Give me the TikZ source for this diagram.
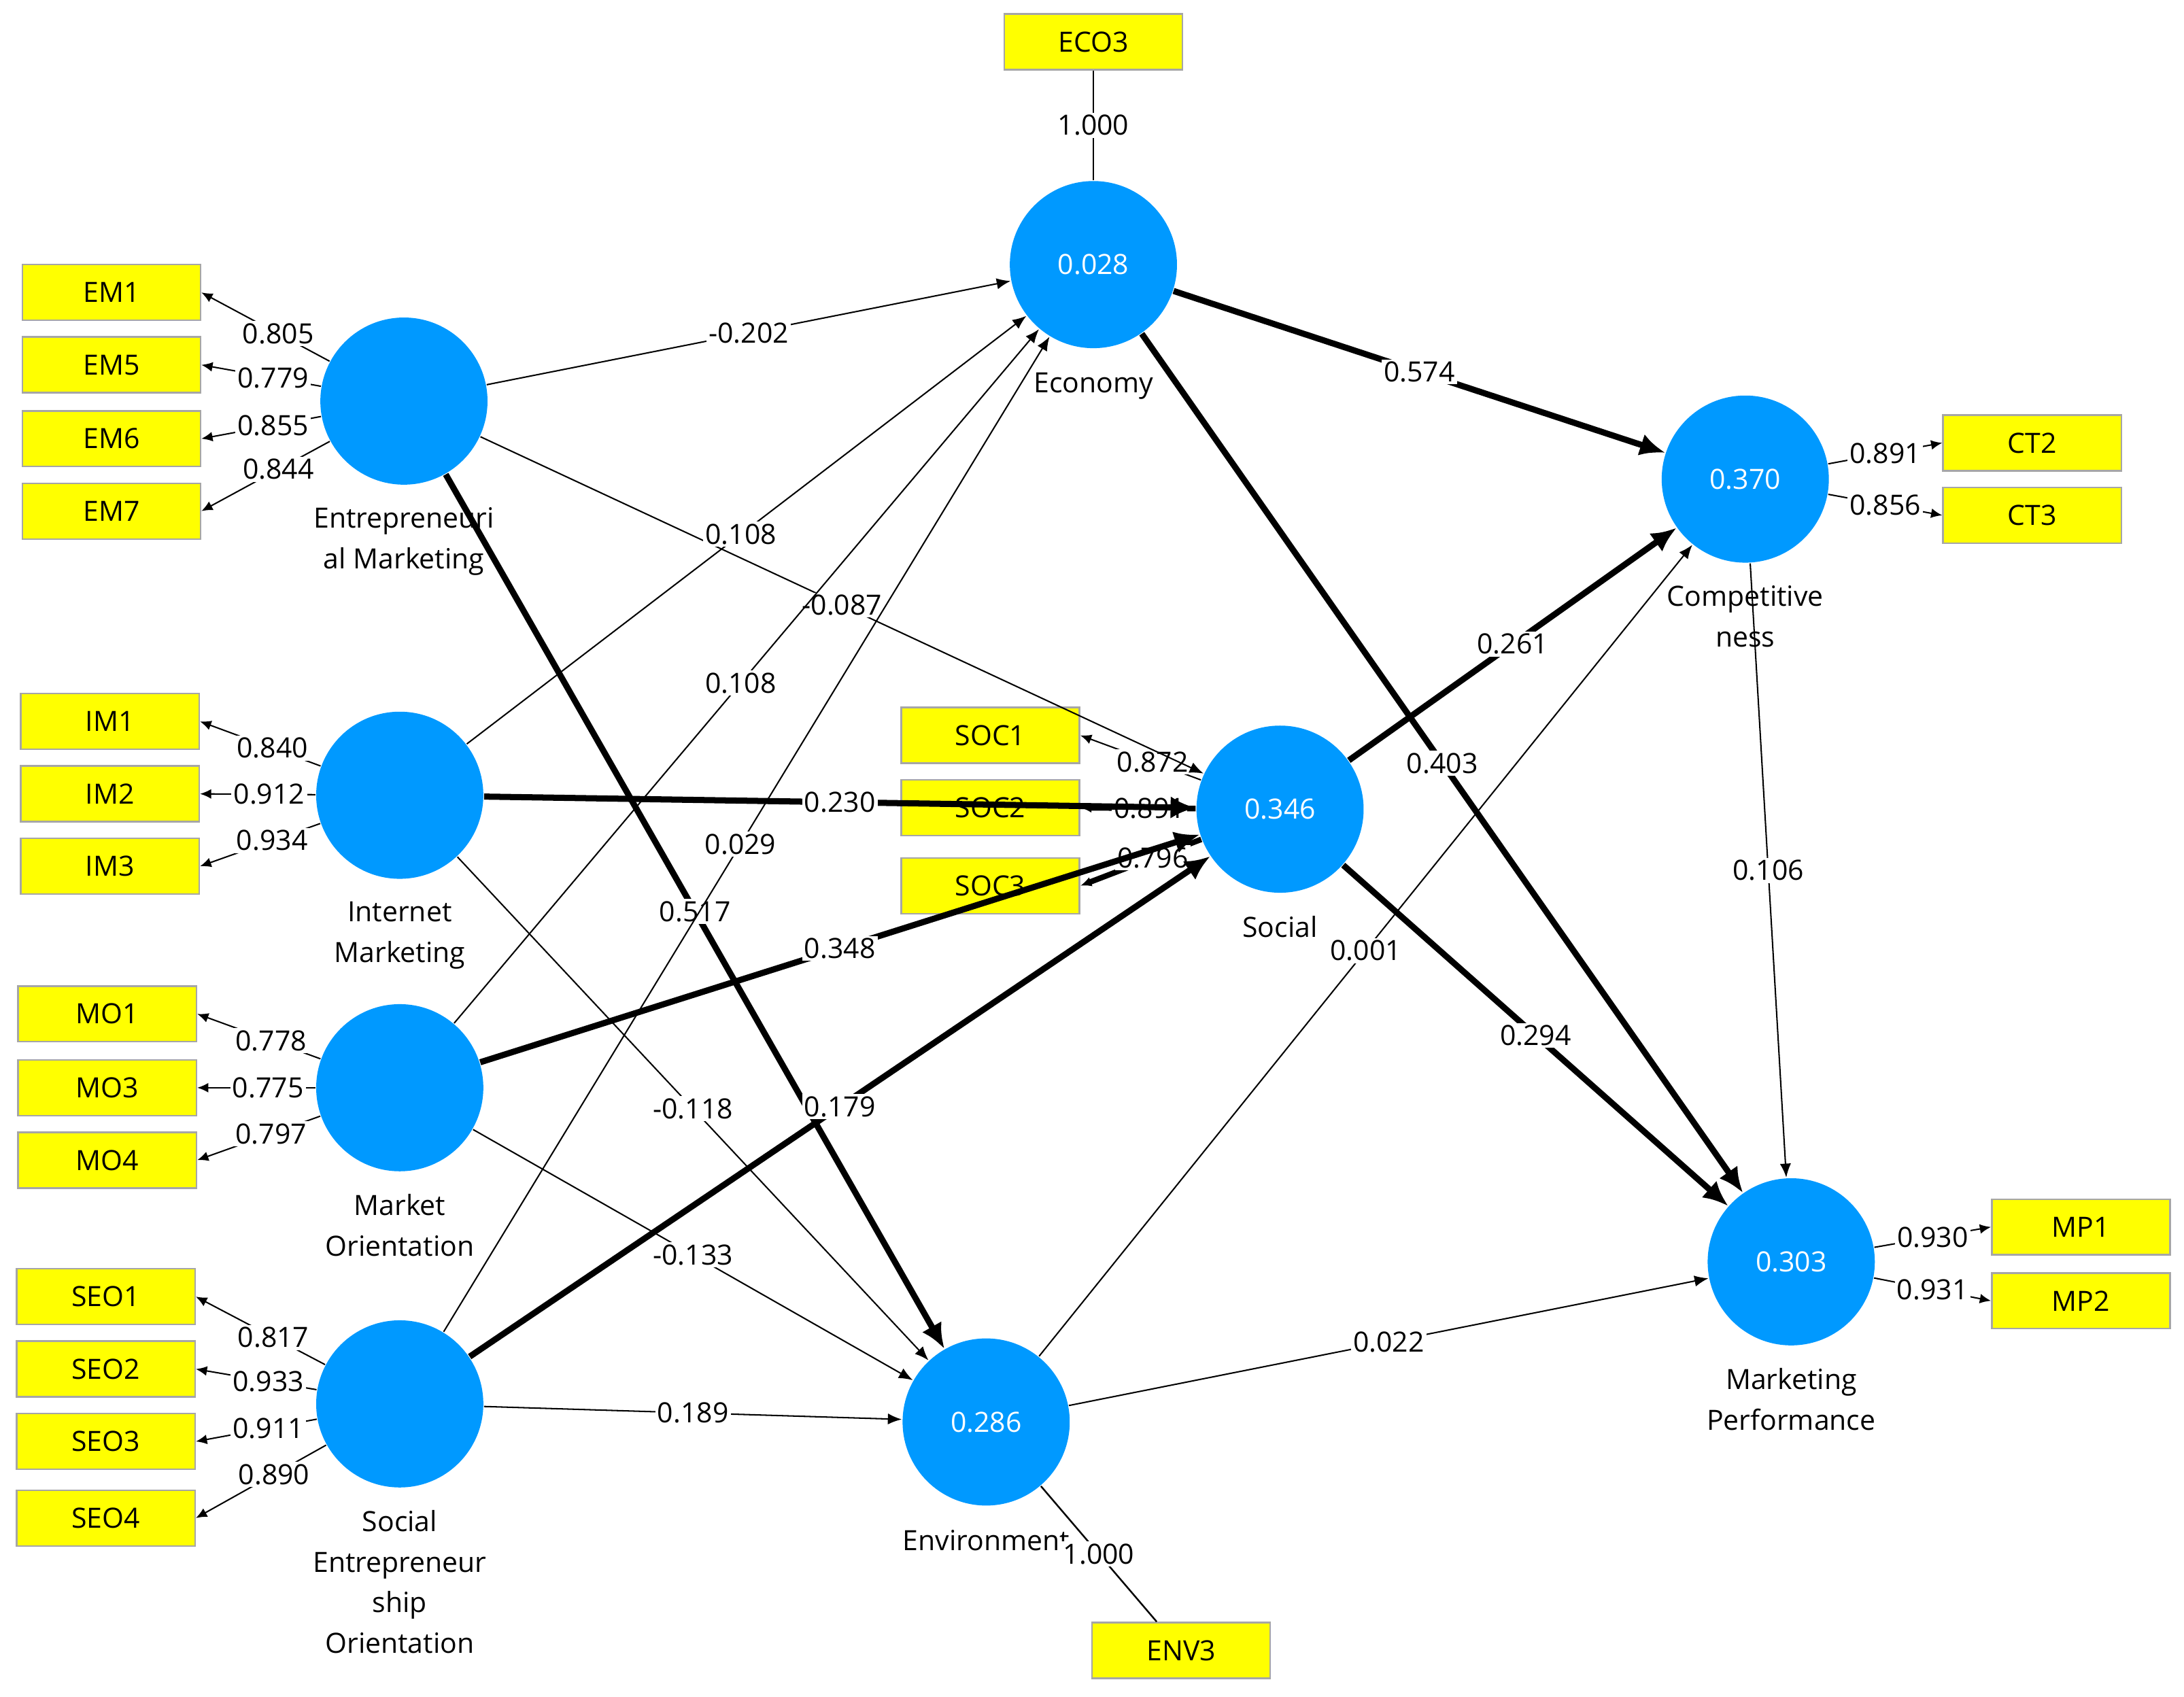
\documentclass[tikz,border=0pt]{standalone}
\usepackage{fontspec}
\setmainfont{Open Sans}
\usetikzlibrary{arrows.meta}
\definecolor{lvblue}{RGB}{0,153,255}
\definecolor{mvyellow}{RGB}{255,255,0}
\tikzset{every picture/.style={line width=0.6pt}}
\tikzset{
  lv/.style={circle,fill=lvblue,draw=none,minimum size=60pt,inner sep=0pt,text=white,font=\fontsize{10}{12}\selectfont},
  mv/.style={rectangle,fill=mvyellow,draw=gray!70,minimum width=64pt,minimum height=20pt,inner sep=0pt,font=\fontsize{10}{12}\selectfont},
  lvname/.style={align=center,font=\fontsize{10}{14.5}\selectfont,inner sep=1pt},
  lbl/.style={fill=white,inner sep=0.8pt,font=\fontsize{10}{12}\selectfont},
  thin/.style={-{Latex[length=5pt,width=4pt]},line width=0.5pt},
  thick/.style={-{Latex[length=9pt,width=8pt]},line width=2.2pt},
  load/.style={-{Latex[length=4pt,width=3.5pt]},line width=0.5pt},
}

\begin{document}
\begin{tikzpicture}[x=0.5pt,y=0.5pt,yscale=-1,xscale=1]
\useasboundingbox (0,0) rectangle (1568,1218);

% latent variables
\node[lv] (em)  at (290,288) {};
\node[lv] (im)  at (287,571) {};
\node[lv] (mo)  at (287,781) {};
\node[lv] (seo) at (287,1008) {};
\node[lv] (eco) at (785,190) {0.028};
\node[lv] (soc) at (919,581) {0.346};
\node[lv] (env) at (708,1021) {0.286};
\node[lv] (ct)  at (1253,344) {0.370};
\node[lv] (mp)  at (1286,906) {0.303};

% latent names
\node[lvname,anchor=north] at (290,362) {Entrepreneuri\\al Marketing};
\node[lvname,anchor=north] at (287,645) {Internet\\Marketing};
\node[lvname,anchor=north] at (287,855) {Market\\Orientation};
\node[lvname,anchor=north] at (287,1082) {Social\\Entrepreneur\\ship\\Orientation};
\node[lvname,anchor=north] at (785,265) {Economy};
\node[lvname,anchor=north] at (919,655) {Social};
\node[lvname,anchor=north] at (708,1096) {Environment};
\node[lvname,anchor=north] at (1253,418) {Competitive\\ness};
\node[lvname,anchor=north] at (1286,980) {Marketing\\Performance};

% indicators
\node[mv] (em1) at (80,210) {EM1};
\node[mv] (em5) at (80,262) {EM5};
\node[mv] (em6) at (80,315) {EM6};
\node[mv] (em7) at (80,367) {EM7};
\node[mv] (im1) at (79,518) {IM1};
\node[mv] (im2) at (79,570) {IM2};
\node[mv] (im3) at (79,622) {IM3};
\node[mv] (mo1) at (77,728) {MO1};
\node[mv] (mo3) at (77,781) {MO3};
\node[mv] (mo4) at (77,833) {MO4};
\node[mv] (seo1) at (76,931) {SEO1};
\node[mv] (seo2) at (76,983) {SEO2};
\node[mv] (seo3) at (76,1035) {SEO3};
\node[mv] (seo4) at (76,1090) {SEO4};
\node[mv] (eco3) at (785,30) {ECO3};
\node[mv] (env3) at (848,1185) {ENV3};
\node[mv] (soc1) at (711,528) {SOC1};
\node[mv] (soc2) at (711,580) {SOC2};
\node[mv] (soc3) at (711,636) {SOC3};
\node[mv] (ct2) at (1459,318) {CT2};
\node[mv] (ct3) at (1459,370) {CT3};
\node[mv] (mp1) at (1494,881) {MP1};
\node[mv] (mp2) at (1494,934) {MP2};

% outer loadings
\foreach \lv/\mvn/\val in {em/em1/0.805,em/em5/0.779,em/em6/0.855,em/em7/0.844,
    im/im1/0.840,im/im2/0.912,im/im3/0.934,
    mo/mo1/0.778,mo/mo3/0.775,mo/mo4/0.797,
    seo/seo1/0.817,seo/seo2/0.933,seo/seo3/0.911,seo/seo4/0.890}
  \draw[load] (\lv) -- (\mvn.east) node[lbl,pos=0.4] {\val};
\draw[load] (soc) -- (soc1.east) node[lbl,pos=0.4] {0.872};
\draw[load,line width=2pt] (soc) -- (soc2.east) node[lbl,pos=0.4] {0.891};
\draw[load,line width=2pt] (soc) -- (soc3.east) node[lbl,pos=0.4] {0.796};
\draw[load] (ct) -- (ct2.west) node[lbl,pos=0.5] {0.891};
\draw[load] (ct) -- (ct3.west) node[lbl,pos=0.5] {0.856};
\draw[load] (mp) -- (mp1.west) node[lbl,pos=0.5] {0.930};
\draw[load] (mp) -- (mp2.west) node[lbl,pos=0.5] {0.931};
\draw (eco) -- (eco3) node[lbl,midway] {1.000};
\draw (env) -- (env3) node[lbl,midway] {1.000};

% path coefficients
\draw[thin]  (em) -- (eco) node[lbl,midway] {-0.202};
\draw[thin]  (em) -- (soc) node[lbl,midway] {-0.087};
\draw[thick] (em) -- (env) node[lbl,midway] {0.517};
\draw[thin]  (im) -- (eco) node[lbl,pos=0.49] {0.108};
\draw[thick] (im) -- (soc) node[lbl,midway] {0.230};
\draw[thin]  (im) -- (env) node[lbl,midway] {-0.118};
\draw[thin]  (mo) -- (eco) node[lbl,pos=0.49] {0.108};
\draw[thick] (mo) -- (soc) node[lbl,midway] {0.348};
\draw[thin]  (mo) -- (env) node[lbl,midway] {-0.133};
\draw[thin]  (seo) -- (eco) node[lbl,pos=0.49] {0.029};
\draw[thick] (seo) -- (soc) node[lbl,midway] {0.179};
\draw[thin]  (seo) -- (env) node[lbl,midway] {0.189};
\draw[thick] (eco) -- (ct) node[lbl,midway] {0.574};
\draw[thick] (eco) -- (mp) node[lbl,midway] {0.403};
\draw[thick] (soc) -- (ct) node[lbl,midway] {0.261};
\draw[thick] (soc) -- (mp) node[lbl,midway] {0.294};
\draw[thin]  (env) -- (ct) node[lbl,midway] {0.001};
\draw[thin]  (env) -- (mp) node[lbl,midway] {0.022};
\draw[thin]  (ct) -- (mp) node[lbl,midway] {0.106};

\end{tikzpicture}
\end{document}
